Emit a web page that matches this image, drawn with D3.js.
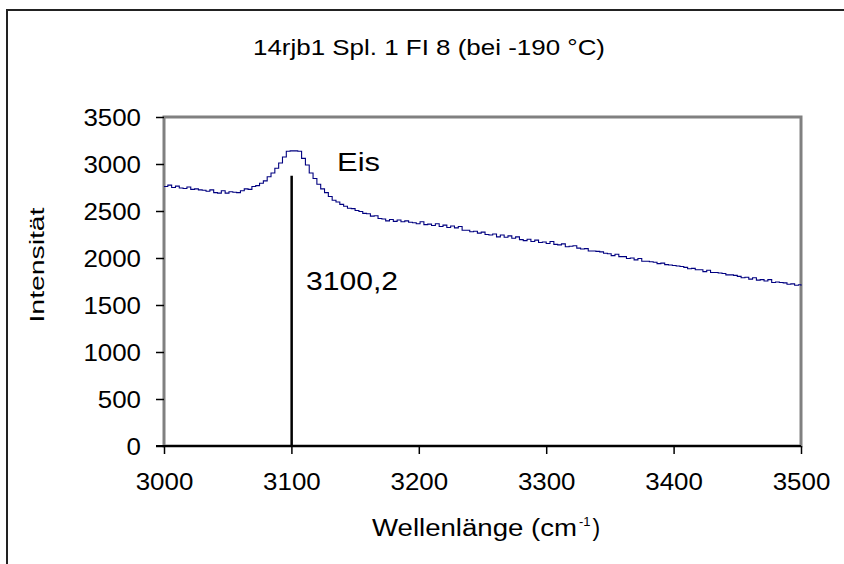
<!DOCTYPE html>
<html>
<head>
<meta charset="utf-8">
<script src="https://cdn.jsdelivr.net/npm/d3@7/dist/d3.min.js"></script>
<style>
  html, body { margin: 0; padding: 0; background: #fff; }
  svg { display: block; font-family: "Liberation Sans", Arial, Helvetica, sans-serif; }
</style>
</head>
<body>
<svg id="chart" width="844" height="564"></svg>
<script>
// Raman spectrum, sample 14rjb1 Spl. 1 FI 8, measured at -190 °C
const wavenumbers = [
  3000,3003,3006,3009,3012,3015,3018,3021,3024,3027,3030,3033,3036,3039,3042,3045,3048,3051,3054,3057,
  3060,3063,3066,3069,3072,3075,3078,3081,3084,3087,3090,3093,3096,3099,3102,3105,3108,3111,3114,3117,
  3120,3123,3126,3129,3132,3135,3138,3141,3144,3147,3150,3153,3156,3159,3162,3165,3168,3171,3174,3177,
  3180,3183,3186,3189,3192,3195,3198,3201,3204,3207,3210,3213,3216,3219,3222,3225,3228,3231,3234,3237,
  3240,3243,3246,3249,3252,3255,3258,3261,3264,3267,3270,3273,3276,3279,3282,3285,3288,3291,3294,3297,
  3300,3303,3306,3309,3312,3315,3318,3321,3324,3327,3330,3333,3336,3339,3342,3345,3348,3351,3354,3357,
  3360,3363,3366,3369,3372,3375,3378,3381,3384,3387,3390,3393,3396,3399,3402,3405,3408,3411,3414,3417,
  3420,3423,3426,3429,3432,3435,3438,3441,3444,3447,3450,3453,3456,3459,3462,3465,3468,3471,3474,3477,
  3480,3483,3486,3489,3492,3495,3498,3500
];
const intensities = [
  2760,2775,2750,2765,2745,2740,2755,2730,2735,2725,2720,2710,2725,2695,2690,2715,2690,2705,2700,2695,
  2715,2735,2730,2760,2770,2795,2820,2865,2905,2955,3010,3075,3135,3140,3140,3135,3060,2990,2905,2845,
  2785,2735,2695,2655,2615,2595,2570,2550,2530,2525,2505,2495,2475,2470,2445,2450,2420,2415,2395,2410,
  2390,2405,2385,2395,2380,2375,2365,2385,2355,2360,2345,2365,2335,2350,2325,2340,2320,2335,2295,2295,
  2280,2285,2265,2275,2250,2245,2255,2225,2245,2220,2235,2210,2225,2195,2185,2200,2175,2190,2165,2170,
  2155,2175,2145,2140,2150,2120,2125,2130,2105,2095,2100,2075,2075,2070,2065,2050,2045,2025,2040,2015,
  2015,1995,2000,1980,1995,1965,1965,1960,1955,1940,1945,1930,1925,1920,1915,1910,1900,1885,1890,1875,
  1875,1855,1870,1845,1845,1840,1835,1820,1820,1815,1805,1790,1795,1775,1790,1765,1770,1755,1770,1740,
  1745,1740,1735,1720,1725,1710,1715,1705
];
const xTicks = [3000, 3100, 3200, 3300, 3400, 3500];
const yTicks = [0, 500, 1000, 1500, 2000, 2500, 3000, 3500];
const peakPosition = 3100.2;
const peakHeight = 2875;
const peakLabel = "3100,2";
const bandLabel = "Eis";
const titleText = "14rjb1 Spl. 1 FI 8 (bei -190 °C)";
const xTitle = "Wellenlänge (cm";
const xTitleSup = "-1";
const yTitle = "Intensität";

const svg = d3.select("#chart");
const W = 844, H = 564;
const plot = { left: 164, right: 801, top: 117, bottom: 446 };
const DIGIT_W = 14.4; // rendered width per digit of the axis numbers

const x = d3.scaleLinear().domain([3000, 3500]).range([plot.left, plot.right]);
const y = d3.scaleLinear().domain([0, 3500]).range([plot.bottom, plot.top]);

svg.append("rect").attr("width", W).attr("height", H).attr("fill", "#fff");

// chart frame (open at right/bottom edges of the page)
svg.append("path")
  .attr("d", `M7,${H + 5} L7,10 L${W + 5},10`)
  .attr("fill", "none").attr("stroke", "#222").attr("stroke-width", 2);

// title
svg.append("text")
  .attr("x", 253).attr("y", 55)
  .attr("font-size", 22)
  .attr("textLength", 352).attr("lengthAdjust", "spacingAndGlyphs")
  .attr("fill", "#000")
  .text(titleText);

// plot-area border
svg.append("rect")
  .attr("x", plot.left).attr("y", plot.top)
  .attr("width", plot.right - plot.left).attr("height", plot.bottom - plot.top)
  .attr("fill", "none").attr("stroke", "#808080").attr("stroke-width", 3);

// y axis
const yAxis = d3.axisLeft(y).tickValues(yTicks).tickSize(8).tickPadding(15).tickFormat(d3.format("d"));
const gy = svg.append("g").attr("transform", `translate(${plot.left},0)`).call(yAxis);
gy.select(".domain").remove();
gy.selectAll(".tick line").attr("stroke", "#000").attr("stroke-width", 1.5);
gy.selectAll(".tick text")
  .attr("font-size", 23).attr("font-family", null).attr("fill", "#000")
  .attr("dy", "0.36em")
  .attr("textLength", d => String(d).length * DIGIT_W)
  .attr("lengthAdjust", "spacingAndGlyphs");

// x axis
const xAxis = d3.axisBottom(x).tickValues(xTicks).tickSize(8).tickPadding(20).tickFormat(d3.format("d"));
const gx = svg.append("g").attr("transform", `translate(0,${plot.bottom})`).call(xAxis);
gx.select(".domain").attr("d", `M${plot.left - 8},0H${plot.right}`).attr("stroke", "#000").attr("stroke-width", 2);
gx.selectAll(".tick line").attr("stroke", "#000").attr("stroke-width", 1.5);
gx.selectAll(".tick text")
  .attr("font-size", 23).attr("font-family", null).attr("fill", "#000")
  .attr("textLength", d => String(d).length * DIGIT_W)
  .attr("lengthAdjust", "spacingAndGlyphs");

// spectrum
const line = d3.line()
  .x((d, i) => x(wavenumbers[i]))
  .y(d => y(d))
  .curve(d3.curveStepAfter);
svg.append("path")
  .datum(intensities)
  .attr("d", line)
  .attr("fill", "none")
  .attr("stroke", "#000080")
  .attr("stroke-width", 1.1);

// peak marker
svg.append("line")
  .attr("x1", x(peakPosition)).attr("x2", x(peakPosition))
  .attr("y1", y(0)).attr("y2", y(peakHeight))
  .attr("stroke", "#000").attr("stroke-width", 2.5);

svg.append("text")
  .attr("x", 337).attr("y", 171)
  .attr("font-size", 26).attr("fill", "#000")
  .attr("textLength", 43).attr("lengthAdjust", "spacingAndGlyphs")
  .text(bandLabel);

svg.append("text")
  .attr("x", 306).attr("y", 290)
  .attr("font-size", 26).attr("fill", "#000")
  .attr("textLength", 92).attr("lengthAdjust", "spacingAndGlyphs")
  .text(peakLabel);

// axis titles
const xt = svg.append("text")
  .attr("x", 372).attr("y", 536)
  .attr("font-size", 23).attr("fill", "#000");
xt.append("tspan").attr("textLength", 205).attr("lengthAdjust", "spacingAndGlyphs").text(xTitle);
xt.append("tspan").attr("font-size", 13).attr("dy", -10).attr("dx", 2).text(xTitleSup);
xt.append("tspan").attr("dy", 10).attr("dx", 2).text(")");

svg.append("text")
  .attr("transform", "translate(44,265) rotate(-90)")
  .attr("text-anchor", "middle")
  .attr("font-size", 21).attr("fill", "#000")
  .attr("textLength", 115).attr("lengthAdjust", "spacingAndGlyphs")
  .text(yTitle);
</script>
</body>
</html>
